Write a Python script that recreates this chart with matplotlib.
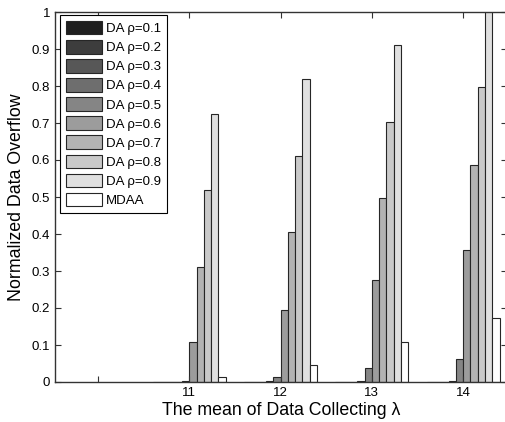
import matplotlib
matplotlib.use("Agg")
import matplotlib.pyplot as plt
import numpy as np

plt.rcParams['font.family'] = ['Liberation Sans', 'DejaVu Sans']

# mean of data collecting lambda
lam = [11, 12, 13, 14]
# normalized data overflow, one list per series
rho01 = [0.0005, 0.0005, 0.0005, 0.0005]
rho02 = [0.0005, 0.0005, 0.0005, 0.0005]
rho03 = [0.0008, 0.001, 0.001, 0.001]
rho04 = [0.001, 0.002, 0.002, 0.002]
rho05 = [0.004, 0.0135, 0.038, 0.061]
rho06 = [0.108, 0.194, 0.277, 0.356]
rho07 = [0.311, 0.406, 0.498, 0.587]
rho08 = [0.519, 0.612, 0.702, 0.796]
rho09 = [0.724, 0.819, 0.912, 1.05]
mdaa = [0.0135, 0.047, 0.108, 0.174]

series = [rho01, rho02, rho03, rho04, rho05, rho06, rho07, rho08, rho09, mdaa]
labels = ['DA ρ=0.1', 'DA ρ=0.2', 'DA ρ=0.3', 'DA ρ=0.4', 'DA ρ=0.5',
          'DA ρ=0.6', 'DA ρ=0.7', 'DA ρ=0.8', 'DA ρ=0.9', 'MDAA']
grays = [0.12, 0.24, 0.34, 0.43, 0.52, 0.61, 0.70, 0.79, 0.88, 1.0]

fig = plt.figure(figsize=(5.06, 4.22), dpi=100)
ax = fig.add_axes([55 / 506, 40 / 422, 452 / 506, 370 / 422])

w = 0.08
x = np.array(lam)
for i, (vals, lab, g) in enumerate(zip(series, labels, grays)):
    ax.bar(x + (i - 4.5) * w, vals, width=w, color=str(g), edgecolor='0.15',
           linewidth=0.8, label=lab)

ax.set_xlim(9.53, 14.48)
ax.set_ylim(0, 1)
ax.set_xticks([10, 11, 12, 13, 14])
ax.set_xticklabels(['', '11', '12', '13', '14'])
ax.set_yticks(np.arange(0, 1.01, 0.1))
ax.set_yticklabels(['0', '0.1', '0.2', '0.3', '0.4', '0.5', '0.6', '0.7', '0.8', '0.9', '1'])
ax.tick_params(direction='in', top=True, right=True, length=4, width=0.8,
               labelsize=9.5, colors='0.2', labelcolor='black')
for s in ax.spines.values():
    s.set_color('0.2')
    s.set_linewidth(1.0)

ax.set_xlabel('The mean of Data Collecting λ', fontsize=12.8, labelpad=2)
ax.set_ylabel('Normalized Data Overflow', fontsize=12.8, labelpad=5)

leg = ax.legend(loc='upper left', bbox_to_anchor=(0.011, 0.992), borderaxespad=0,
                fontsize=9.5, handlelength=2.7, handleheight=1.2, labelspacing=0.37,
                handletextpad=0.35, borderpad=0.45, fancybox=False, framealpha=1)
leg.get_frame().set_edgecolor('black')
leg.get_frame().set_linewidth(0.8)

fig.savefig('out.png', dpi=100)
